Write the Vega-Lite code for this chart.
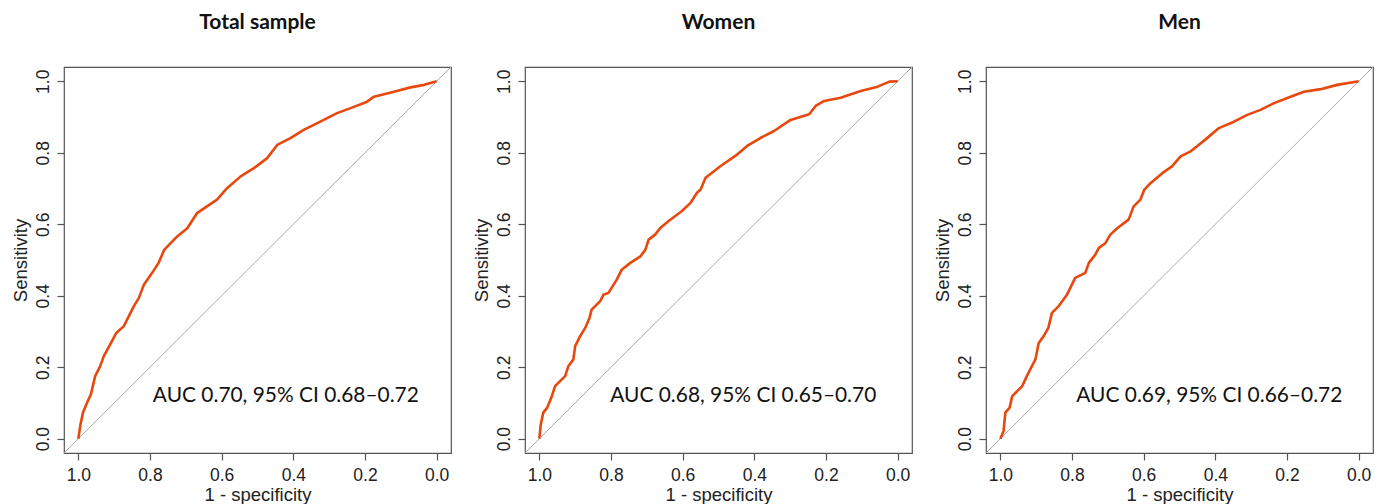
{
  "$schema": "https://vega.github.io/schema/vega-lite/v6.json",
  "background": "white",
  "padding": {"left": 10, "top": 11, "right": 10, "bottom": 0},
  "spacing": 74,
  "bounds": "flush",
  "config": {
    "view": {"stroke": "#555555", "strokeWidth": 1.2},
    "title": {"font": "Lato", "fontWeight": "bold", "fontSize": 21, "color": "#111111", "anchor": "middle", "baseline": "alphabetic", "offset": 32},
    "axis": {
      "grid": false, "domain": false, "tickColor": "#555555", "tickSize": 7, "tickWidth": 1.2,
      "labelFont": "Liberation Sans", "labelFontSize": 17.5, "labelColor": "#222222",
      "titleFont": "Liberation Sans", "titleFontSize": 18.5, "titleFontWeight": "normal", "titleColor": "#222222"
    },
    "axisX": {"labelPadding": 6, "titlePadding": 2},
    "axisY": {"labelAngle": -90, "labelAlign": "center", "labelBaseline": "bottom", "labelPadding": 5, "titlePadding": 4}
  },
  "datasets": {
    "diag": [{"spec": 1.04, "sens": -0.04}, {"spec": -0.04, "sens": 1.04}],
    "total": [
      {"spec": 1.0, "sens": 0.0}, {"spec": 0.994, "sens": 0.04}, {"spec": 0.987, "sens": 0.073}, {"spec": 0.976, "sens": 0.1},
      {"spec": 0.965, "sens": 0.124}, {"spec": 0.953, "sens": 0.175}, {"spec": 0.939, "sens": 0.203}, {"spec": 0.929, "sens": 0.231},
      {"spec": 0.911, "sens": 0.264}, {"spec": 0.894, "sens": 0.296}, {"spec": 0.873, "sens": 0.315}, {"spec": 0.859, "sens": 0.343},
      {"spec": 0.845, "sens": 0.371}, {"spec": 0.831, "sens": 0.394}, {"spec": 0.817, "sens": 0.431}, {"spec": 0.794, "sens": 0.464},
      {"spec": 0.776, "sens": 0.492}, {"spec": 0.76, "sens": 0.529}, {"spec": 0.724, "sens": 0.566}, {"spec": 0.696, "sens": 0.589},
      {"spec": 0.669, "sens": 0.631}, {"spec": 0.641, "sens": 0.65}, {"spec": 0.613, "sens": 0.669}, {"spec": 0.585, "sens": 0.701},
      {"spec": 0.547, "sens": 0.734}, {"spec": 0.51, "sens": 0.757}, {"spec": 0.473, "sens": 0.785}, {"spec": 0.445, "sens": 0.822},
      {"spec": 0.408, "sens": 0.841}, {"spec": 0.371, "sens": 0.864}, {"spec": 0.333, "sens": 0.883}, {"spec": 0.278, "sens": 0.911},
      {"spec": 0.24, "sens": 0.925}, {"spec": 0.194, "sens": 0.943}, {"spec": 0.175, "sens": 0.957}, {"spec": 0.119, "sens": 0.971},
      {"spec": 0.073, "sens": 0.983}, {"spec": 0.035, "sens": 0.99}, {"spec": 0.0, "sens": 1.0}
    ],
    "women": [
      {"spec": 1.0, "sens": 0.0}, {"spec": 0.996, "sens": 0.04}, {"spec": 0.989, "sens": 0.073}, {"spec": 0.978, "sens": 0.087},
      {"spec": 0.965, "sens": 0.119}, {"spec": 0.956, "sens": 0.147}, {"spec": 0.942, "sens": 0.161}, {"spec": 0.928, "sens": 0.175},
      {"spec": 0.919, "sens": 0.203}, {"spec": 0.905, "sens": 0.222}, {"spec": 0.9, "sens": 0.259}, {"spec": 0.886, "sens": 0.287},
      {"spec": 0.872, "sens": 0.31}, {"spec": 0.86, "sens": 0.338}, {"spec": 0.854, "sens": 0.361}, {"spec": 0.83, "sens": 0.385},
      {"spec": 0.821, "sens": 0.403}, {"spec": 0.807, "sens": 0.408}, {"spec": 0.784, "sens": 0.445}, {"spec": 0.77, "sens": 0.473},
      {"spec": 0.746, "sens": 0.492}, {"spec": 0.718, "sens": 0.51}, {"spec": 0.704, "sens": 0.529}, {"spec": 0.695, "sens": 0.557},
      {"spec": 0.677, "sens": 0.571}, {"spec": 0.662, "sens": 0.59}, {"spec": 0.639, "sens": 0.609}, {"spec": 0.602, "sens": 0.637},
      {"spec": 0.578, "sens": 0.66}, {"spec": 0.56, "sens": 0.688}, {"spec": 0.55, "sens": 0.697}, {"spec": 0.536, "sens": 0.73},
      {"spec": 0.494, "sens": 0.763}, {"spec": 0.448, "sens": 0.795}, {"spec": 0.42, "sens": 0.819}, {"spec": 0.382, "sens": 0.842},
      {"spec": 0.345, "sens": 0.861}, {"spec": 0.299, "sens": 0.892}, {"spec": 0.247, "sens": 0.908}, {"spec": 0.229, "sens": 0.931},
      {"spec": 0.205, "sens": 0.945}, {"spec": 0.159, "sens": 0.954}, {"spec": 0.103, "sens": 0.973}, {"spec": 0.056, "sens": 0.985},
      {"spec": 0.023, "sens": 0.999}, {"spec": 0.0, "sens": 1.0}
    ],
    "men": [
      {"spec": 1.0, "sens": 0.0}, {"spec": 0.991, "sens": 0.021}, {"spec": 0.986, "sens": 0.073}, {"spec": 0.974, "sens": 0.087},
      {"spec": 0.967, "sens": 0.119}, {"spec": 0.953, "sens": 0.133}, {"spec": 0.939, "sens": 0.147}, {"spec": 0.926, "sens": 0.175},
      {"spec": 0.912, "sens": 0.203}, {"spec": 0.902, "sens": 0.222}, {"spec": 0.893, "sens": 0.268}, {"spec": 0.879, "sens": 0.287},
      {"spec": 0.866, "sens": 0.31}, {"spec": 0.856, "sens": 0.352}, {"spec": 0.837, "sens": 0.371}, {"spec": 0.814, "sens": 0.403},
      {"spec": 0.791, "sens": 0.45}, {"spec": 0.763, "sens": 0.464}, {"spec": 0.753, "sens": 0.492}, {"spec": 0.735, "sens": 0.515},
      {"spec": 0.725, "sens": 0.534}, {"spec": 0.707, "sens": 0.547}, {"spec": 0.693, "sens": 0.571}, {"spec": 0.674, "sens": 0.589},
      {"spec": 0.642, "sens": 0.613}, {"spec": 0.628, "sens": 0.65}, {"spec": 0.609, "sens": 0.669}, {"spec": 0.598, "sens": 0.697},
      {"spec": 0.581, "sens": 0.715}, {"spec": 0.548, "sens": 0.743}, {"spec": 0.521, "sens": 0.762}, {"spec": 0.497, "sens": 0.79},
      {"spec": 0.469, "sens": 0.804}, {"spec": 0.451, "sens": 0.818}, {"spec": 0.423, "sens": 0.841}, {"spec": 0.39, "sens": 0.869},
      {"spec": 0.348, "sens": 0.887}, {"spec": 0.311, "sens": 0.906}, {"spec": 0.274, "sens": 0.92}, {"spec": 0.236, "sens": 0.939},
      {"spec": 0.19, "sens": 0.957}, {"spec": 0.153, "sens": 0.971}, {"spec": 0.106, "sens": 0.978}, {"spec": 0.06, "sens": 0.99},
      {"spec": 0.0, "sens": 1.0}
    ],
    "labels": [
      {"panel": "Total sample", "spec": 0.792, "sens": 0.103, "label": "AUC 0.70, 95% CI 0.68–0.72"},
      {"panel": "Women", "spec": 0.802, "sens": 0.103, "label": "AUC 0.68, 95% CI 0.65–0.70"},
      {"panel": "Men", "spec": 0.788, "sens": 0.103, "label": "AUC 0.69, 95% CI 0.66–0.72"}
    ]
  },
  "hconcat": [
    {
      "title": "Total sample",
      "width": 387, "height": 386,
      "layer": [
        {"data": {"name": "diag"}, "mark": {"type": "line", "color": "#aaaaaa", "strokeWidth": 1},
         "encoding": {"x": {"field": "spec", "type": "quantitative", "scale": {"domain": [-0.04, 1.04], "reverse": true, "nice": false, "zero": false}, "axis": {"values": [0, 0.2, 0.4, 0.6, 0.8, 1], "format": ".1f"}, "title": "1 - specificity"},
                      "y": {"field": "sens", "type": "quantitative", "scale": {"domain": [-0.04, 1.04], "nice": false, "zero": false}, "axis": {"values": [0, 0.2, 0.4, 0.6, 0.8, 1], "format": ".1f"}, "title": "Sensitivity"}}},
        {"data": {"name": "total"}, "mark": {"type": "line", "color": "#e8470e", "strokeWidth": 2.6, "strokeJoin": "round"},
         "encoding": {"x": {"field": "spec", "type": "quantitative"}, "y": {"field": "sens", "type": "quantitative"}}},
        {"data": {"name": "labels"}, "transform": [{"filter": "datum.panel === 'Total sample'"}],
         "mark": {"type": "text", "align": "left", "baseline": "alphabetic", "font": "Lato", "fontSize": 20.9, "color": "#111111"},
         "encoding": {"x": {"field": "spec", "type": "quantitative"}, "y": {"field": "sens", "type": "quantitative"}, "text": {"field": "label"}}}
      ]
    },
    {
      "title": "Women",
      "width": 387, "height": 386,
      "layer": [
        {"data": {"name": "diag"}, "mark": {"type": "line", "color": "#aaaaaa", "strokeWidth": 1},
         "encoding": {"x": {"field": "spec", "type": "quantitative", "scale": {"domain": [-0.04, 1.04], "reverse": true, "nice": false, "zero": false}, "axis": {"values": [0, 0.2, 0.4, 0.6, 0.8, 1], "format": ".1f"}, "title": "1 - specificity"},
                      "y": {"field": "sens", "type": "quantitative", "scale": {"domain": [-0.04, 1.04], "nice": false, "zero": false}, "axis": {"values": [0, 0.2, 0.4, 0.6, 0.8, 1], "format": ".1f"}, "title": "Sensitivity"}}},
        {"data": {"name": "women"}, "mark": {"type": "line", "color": "#e8470e", "strokeWidth": 2.6, "strokeJoin": "round"},
         "encoding": {"x": {"field": "spec", "type": "quantitative"}, "y": {"field": "sens", "type": "quantitative"}}},
        {"data": {"name": "labels"}, "transform": [{"filter": "datum.panel === 'Women'"}],
         "mark": {"type": "text", "align": "left", "baseline": "alphabetic", "font": "Lato", "fontSize": 20.9, "color": "#111111"},
         "encoding": {"x": {"field": "spec", "type": "quantitative"}, "y": {"field": "sens", "type": "quantitative"}, "text": {"field": "label"}}}
      ]
    },
    {
      "title": "Men",
      "width": 387, "height": 386,
      "layer": [
        {"data": {"name": "diag"}, "mark": {"type": "line", "color": "#aaaaaa", "strokeWidth": 1},
         "encoding": {"x": {"field": "spec", "type": "quantitative", "scale": {"domain": [-0.04, 1.04], "reverse": true, "nice": false, "zero": false}, "axis": {"values": [0, 0.2, 0.4, 0.6, 0.8, 1], "format": ".1f"}, "title": "1 - specificity"},
                      "y": {"field": "sens", "type": "quantitative", "scale": {"domain": [-0.04, 1.04], "nice": false, "zero": false}, "axis": {"values": [0, 0.2, 0.4, 0.6, 0.8, 1], "format": ".1f"}, "title": "Sensitivity"}}},
        {"data": {"name": "men"}, "mark": {"type": "line", "color": "#e8470e", "strokeWidth": 2.6, "strokeJoin": "round"},
         "encoding": {"x": {"field": "spec", "type": "quantitative"}, "y": {"field": "sens", "type": "quantitative"}}},
        {"data": {"name": "labels"}, "transform": [{"filter": "datum.panel === 'Men'"}],
         "mark": {"type": "text", "align": "left", "baseline": "alphabetic", "font": "Lato", "fontSize": 20.9, "color": "#111111"},
         "encoding": {"x": {"field": "spec", "type": "quantitative"}, "y": {"field": "sens", "type": "quantitative"}, "text": {"field": "label"}}}
      ]
    }
  ]
}
